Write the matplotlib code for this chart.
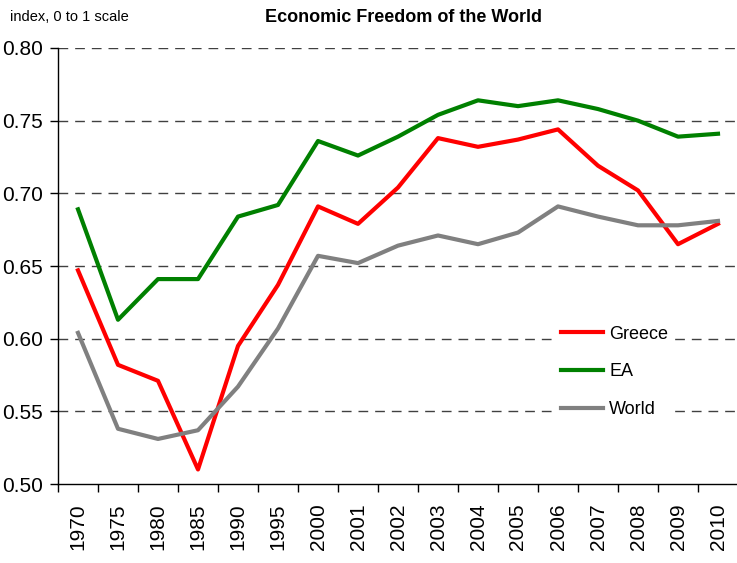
import matplotlib
matplotlib.use("Agg")
import matplotlib.pyplot as plt
import numpy as np

years = ["1970", "1975", "1980", "1985", "1990", "1995", "2000", "2001", "2002",
         "2003", "2004", "2005", "2006", "2007", "2008", "2009", "2010"]
greece = [0.647, 0.582, 0.571, 0.510, 0.595, 0.637, 0.691, 0.679, 0.704,
          0.738, 0.732, 0.737, 0.744, 0.719, 0.702, 0.665, 0.679]
ea = [0.689, 0.613, 0.641, 0.641, 0.684, 0.692, 0.736, 0.726, 0.739,
      0.754, 0.764, 0.760, 0.764, 0.758, 0.750, 0.739, 0.741]
world = [0.604, 0.538, 0.531, 0.537, 0.567, 0.607, 0.657, 0.652, 0.664,
         0.671, 0.665, 0.673, 0.691, 0.684, 0.678, 0.678, 0.681]
yticks = [0.50, 0.55, 0.60, 0.65, 0.70, 0.75, 0.80]

plt.rcParams["font.family"] = ["Liberation Sans", "DejaVu Sans"]

W, H = 737, 563
fig = plt.figure(figsize=(W / 100, H / 100), dpi=100)
ax = fig.add_axes([58 / W, 1 - 484 / H, 680 / W, 436 / H])

x = np.arange(len(years))
ax.plot(x, greece, color="#ff0000", lw=3.0, label="Greece")
ax.plot(x, ea, color="#008000", lw=3.0, label="EA")
ax.plot(x, world, color="#808080", lw=3.0, label="World")

ax.set_xlim(-0.5, len(years) - 0.5)
ax.set_ylim(0.50, 0.80)
ax.set_yticks(yticks)
ax.set_yticklabels([f"{v:.2f}" for v in yticks], fontsize=15)
ax.set_xticks(x)
ax.set_xticklabels(years, rotation=90, fontsize=15)
ax.set_xticks(np.arange(-0.5, len(years)), minor=True)
ax.tick_params(axis="x", which="major", length=0, pad=14)
ax.tick_params(axis="x", which="minor", length=6, direction="out", width=1)
ax.tick_params(axis="y", length=6, direction="out", width=1, pad=5)

for v in yticks[1:]:
    ax.axhline(v, color="#404040", lw=1, ls=(0, (7, 5)), zorder=0)

for s in ["top", "right"]:
    ax.spines[s].set_visible(False)
ax.spines["left"].set_linewidth(1)
ax.spines["bottom"].set_linewidth(1)

leg = ax.legend(loc="center left", bbox_to_anchor=(556 / W, 1 - 372 / H),
                bbox_transform=fig.transFigure, frameon=True, facecolor="white",
                edgecolor="none", framealpha=1, fancybox=False, borderpad=0.3,
                borderaxespad=0, fontsize=13, handlelength=2.3,
                handletextpad=0.35, labelspacing=1.15)

fig.text(404 / W, 1 - 18 / H, "Economic Freedom of the World", ha="center", va="center",
         fontsize=13, fontweight="bold")
fig.text(10 / W, 1 - 17 / H, "index, 0 to 1 scale", ha="left", va="center", fontsize=10.5)

fig.savefig("out.png", dpi=100)
